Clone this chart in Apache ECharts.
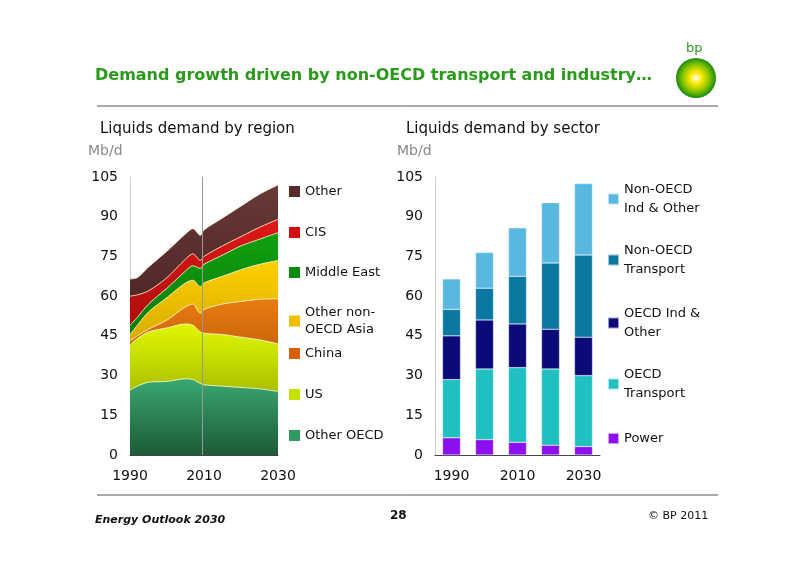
<!DOCTYPE html><html><head><meta charset="utf-8"><script src="https://cdn.jsdelivr.net/npm/echarts@6/dist/echarts.min.js"></script><style>body{margin:0}#c{width:800px;height:566px}</style></head><body><div id="c"></div><script>
const years=[1990,1992,1995,2000,2005,2007,2009,2010,2015,2020,2025,2030];
const otherOECD=[24.5,26,27.5,27.8,28.8,28.5,27,26.5,26,25.5,25,24];
const us=[17,18,19,20.2,20.7,20.5,19.5,19.5,19.5,19,18.5,18];
const china=[1.5,1,1,3,6.5,8,7,9,11.5,13.5,15.3,17];
const otherAsia=[2.5,4,6.5,8.5,9,9,10,10,10.5,12,13.2,14.5];
const middleEast=[3.5,3,3,3.5,4.5,5.5,7,7,8,9,9.5,10.5];
const cis=[11,8.5,5,4,4.5,4.5,3,3,3.5,3.5,4.5,5];
const other=[6.5,6.5,9,10,9.5,9.5,9.5,10,10.5,11.5,12.5,13];
const barYears=['1990','2000','2010','2020','2030'];
const power=[6.5,5.8,4.8,3.7,3.2];
const oecdTransport=[22,26.7,28.2,28.8,26.8];
const oecdInd=[16.5,18.5,16.5,15,14.5];
const nonOecdTransport=[10,12,18,25,31];
const nonOecdInd=[11.5,13.5,18.3,22.8,27];

const g=(a,b)=>new echarts.graphic.LinearGradient(0,0,0,1,[{offset:0,color:a},{offset:1,color:b}]);
const font='DejaVu Sans';
const areaDefs=[['Other OECD',otherOECD,'#3aa870','#1d5a36','#2e9a60'],['US',us,'#e0f800','#7a8a00','#c8e000'],['China',china,'#e87a10','#8a3a00','#d86000'],['Other non-\nOECD Asia',otherAsia,'#ffd000','#a07800','#f0c000'],['Middle East',middleEast,'#10a010','#055005','#0a8a0a'],['CIS',cis,'#e01818','#700000','#d01010'],['Other',other,'#6a3838','#2a1010','#5a2a2a']];
const barDefs=[['Power',power,'#8a10f0'],['OECD\nTransport',oecdTransport,'#20c0c0'],['OECD Ind &\nOther',oecdInd,'#0a0a78'],['Non-OECD\nTransport',nonOecdTransport,'#0a78a0'],['Non-OECD\nInd & Other',nonOecdInd,'#58b8e0']];
const series=[];
const cum=years.map(()=>0);
areaDefs.forEach((d,i)=>{
 const data=years.map((y,j)=>{cum[j]+=d[1][j];return [y,+cum[j].toFixed(2)];});
 series.push({name:d[0],type:'line',xAxisIndex:0,yAxisIndex:0,symbol:'none',smooth:0.3,z:10-i,
 lineStyle:{color:'rgba(255,255,220,0.8)',width:1},areaStyle:{opacity:1,color:g(d[2],d[3]),origin:'start'},itemStyle:{color:d[4]},data:data});});
barDefs.forEach(d=>series.push({name:d[0],type:'bar',stack:'b',xAxisIndex:1,yAxisIndex:1,barWidth:18,data:d[1],
 itemStyle:{color:d[2],borderColor:'rgba(255,255,255,0.6)',borderWidth:0.5}}));
const legends=[];
const ltop=[427,386,345,304,264,224,183];
areaDefs.forEach((d,i)=>legends.push({left:289,top:ltop[i],padding:0,icon:'rect',data:[d[0]],itemWidth:11,itemHeight:11,textStyle:{fontFamily:font,fontSize:13,color:'#111',lineHeight:17}}));
const rtop=[429,365,304,241,180];
barDefs.forEach((d,i)=>legends.push({left:607,top:rtop[i],padding:0,icon:'rect',data:[d[0]],itemWidth:11,itemHeight:11,textStyle:{fontFamily:font,fontSize:13,color:'#111',lineHeight:19}}));
const lab={fontFamily:font,fontSize:14,color:'#111'};
const t=(x,y,s,st)=>({type:'text',left:x,top:y,style:Object.assign({text:s,fontFamily:font,fill:'#111',fontSize:15},st||{})});
const ch=echarts.init(document.getElementById('c'));
ch.setOption({animation:false,backgroundColor:'#fff',legend:legends,
 grid:[{left:130,top:177,width:148,height:278},{left:435,top:177,width:165,height:278}],
 xAxis:[{type:'value',gridIndex:0,min:1990,max:2030,interval:20,axisTick:{show:false},splitLine:{show:false},axisLine:{lineStyle:{color:'#444'}},axisLabel:Object.assign({},lab,{formatter:v=>String(v),margin:14})},
  {type:'category',gridIndex:1,data:barYears,axisTick:{show:false},axisLine:{lineStyle:{color:'#444'}},axisLabel:Object.assign({},lab,{interval:1,margin:14})}],
 yAxis:[0,1].map(i=>({type:'value',gridIndex:i,min:0,max:105,interval:15,axisTick:{show:false},splitLine:{show:false},axisLine:{show:true,lineStyle:{color:'#ccc'}},axisLabel:Object.assign({},lab,{margin:12})})),
 series:series.concat([{type:'line',xAxisIndex:0,yAxisIndex:0,z:20,symbol:'none',silent:true,data:[],
   markLine:{silent:true,symbol:'none',z:20,label:{show:false},lineStyle:{color:'#999',type:'solid',width:1},data:[[{coord:[2009.5,0]},{coord:[2009.5,105]}]]}}]),
 graphic:[
  t(95,68,'Demand growth driven by non-OECD transport and industry…',{fill:'#2a9a1a',fontSize:16,fontWeight:'bold'}),
  {type:'line',shape:{x1:97,y1:106,x2:718,y2:106},style:{stroke:'#555',lineWidth:1}},
  {type:'line',shape:{x1:97,y1:495,x2:718,y2:495},style:{stroke:'#555',lineWidth:1}},
  t(686,42,'bp',{fill:'#2a9a1a',fontSize:13}),
  {type:'circle',shape:{cx:696,cy:78,r:20},style:{fill:new echarts.graphic.RadialGradient(0.5,0.5,0.5,[{offset:0,color:'#ffffff'},{offset:0.3,color:'#ffe600'},{offset:0.65,color:'#8cc800'},{offset:1,color:'#1a8a10'}])}},
  t(100,122,'Liquids demand by region'),t(406,122,'Liquids demand by sector'),
  t(88,144,'Mb/d',{fill:'#888',fontSize:14}),t(397,144,'Mb/d',{fill:'#888',fontSize:14}),
  t(95,515,'Energy Outlook 2030',{fontSize:11,fontStyle:'italic',fontWeight:'bold'}),
  t(390,510,'28',{fontSize:12,fontWeight:'bold'}),
  t(648,511,'© BP 2011',{fontSize:11})
 ]});
</script></body></html>
